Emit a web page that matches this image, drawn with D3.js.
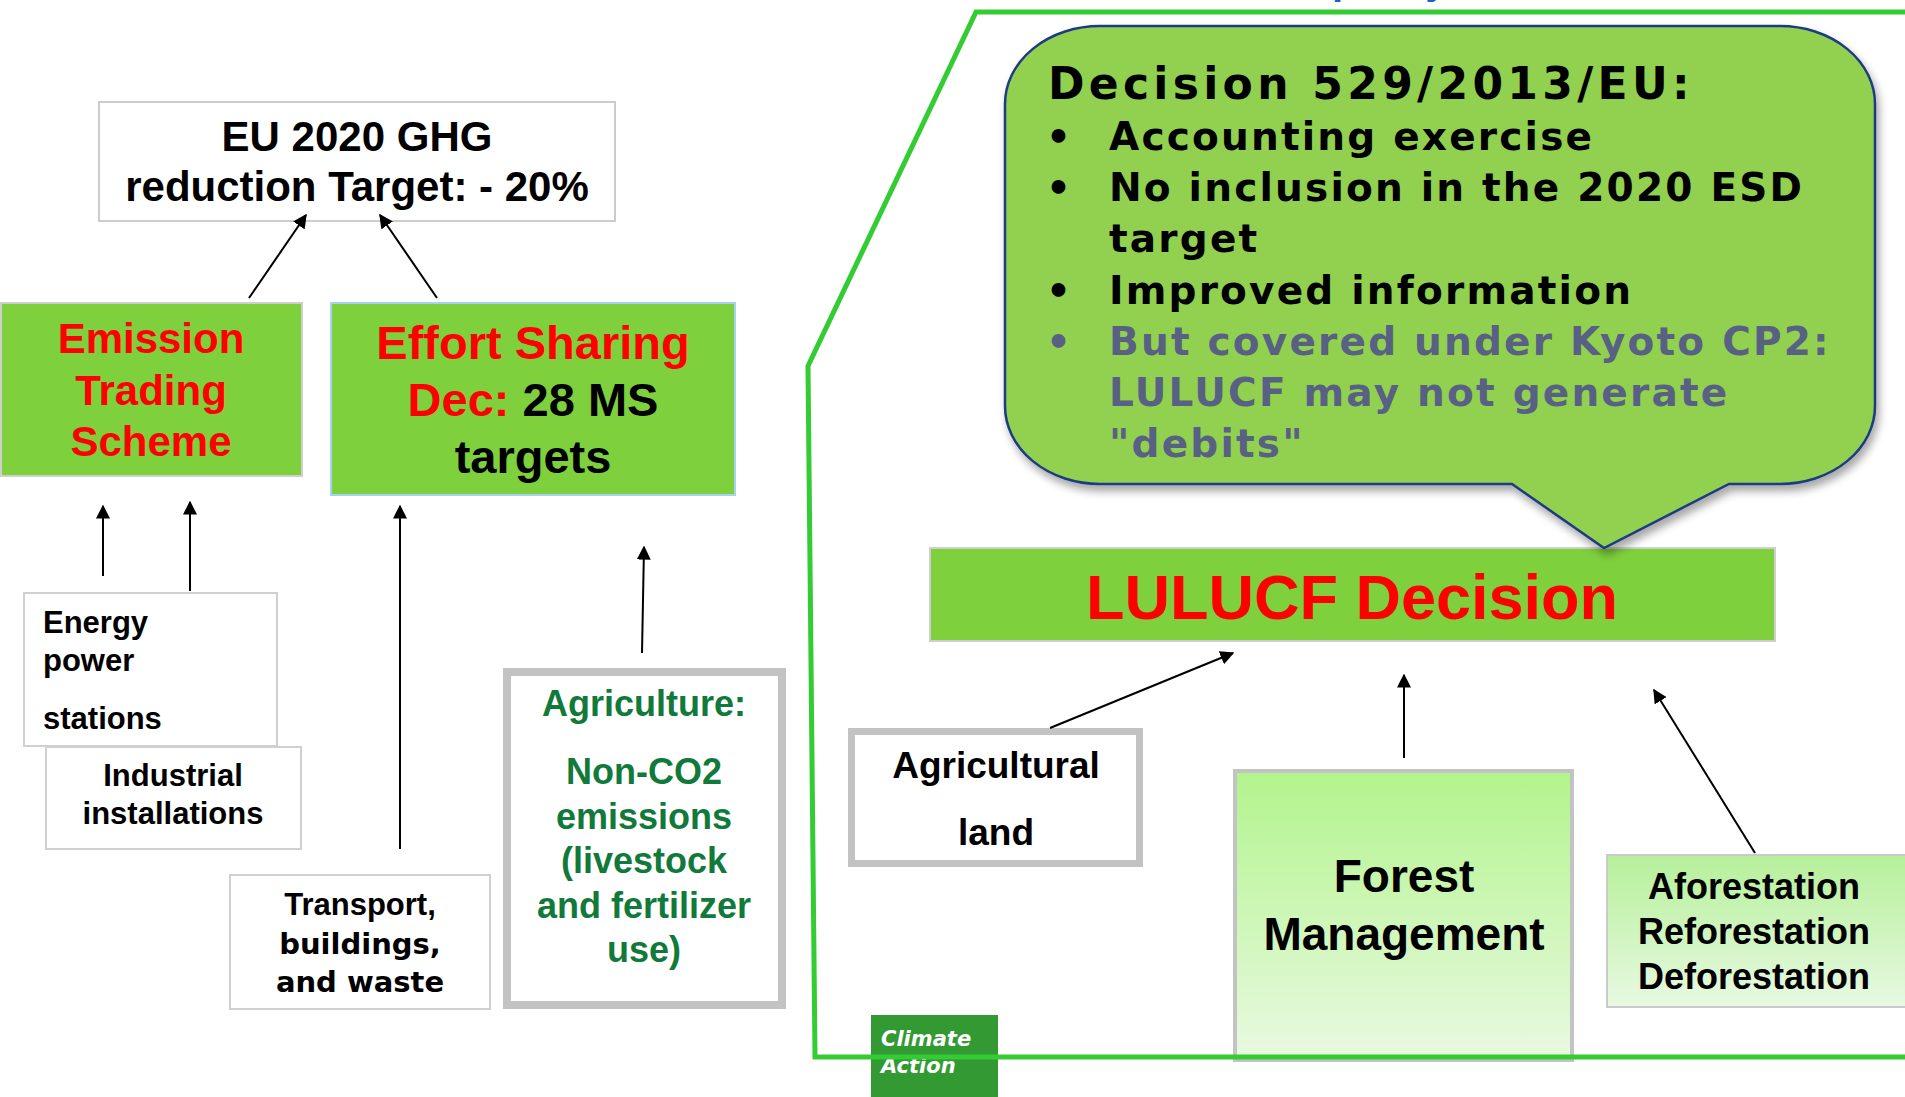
<!DOCTYPE html>
<html>
<head>
<meta charset="utf-8">
<script src="https://cdn.jsdelivr.net/npm/d3@7"></script>
<style>
  html, body { margin: 0; padding: 0; background: #fff; overflow: hidden; }
  svg { display: block; }
</style>
</head>
<body>
<div class="container"></div>
<script>
const WIDTH = 1905;
const HEIGHT = 1097;
const SANS = "'Liberation Sans', Arial, sans-serif";
const WIDE = "'DejaVu Sans', Verdana, sans-serif";

// texts of the diagram
var euTargetLines = ["EU 2020 GHG", "reduction Target: - 20%"];
var etsLines = ["Emission", "Trading", "Scheme"];
var esdLines = [
    [{t: "Effort Sharing", red: true}],
    [{t: "Dec:", red: true}, {t: " 28 MS", red: false}],
    [{t: "targets", red: false}]
];
var energyLines = ["Energy", "power", "stations"];
var industryLines = ["Industrial", "installations"];
var transportLines = ["Transport,", "buildings,", "and waste"];
var agricultureLines = ["Agriculture:", "Non-CO2", "emissions", "(livestock", "and fertilizer", "use)"];
var decisionTitle = "Decision 529/2013/EU:";
var decisionBullets = [
    {lines: ["Accounting exercise"], grey: false},
    {lines: ["No inclusion in the 2020 ESD", "target"], grey: false},
    {lines: ["Improved information"], grey: false},
    {lines: ["But covered under Kyoto CP2:", "LULUCF may not generate", "\"debits\""], grey: true}
];
var lulucfTitle = "LULUCF Decision";
var agriLandLines = ["Agricultural", "land"];
var forestLines = ["Forest", "Management"];
var afforestLines = ["Aforestation", "Reforestation", "Deforestation"];
var badgeLines = ["Climate", "Action"];

// layout (pixels of the slide)
var boxes = {
    eu:        {x: 98,   y: 101, w: 518, h: 121},
    ets:       {x: 0,    y: 302, w: 303, h: 175},
    esd:       {x: 330,  y: 302, w: 406, h: 194},
    energy:    {x: 23,   y: 592, w: 255, h: 155},
    industry:  {x: 45,   y: 746, w: 257, h: 104},
    transport: {x: 229,  y: 874, w: 262, h: 136},
    agri:      {x: 503,  y: 668, w: 283, h: 341},
    lulucf:    {x: 929,  y: 547, w: 847, h: 95},
    agriLand:  {x: 848,  y: 728, w: 295, h: 139},
    forest:    {x: 1233, y: 769, w: 341, h: 293},
    afforest:  {x: 1606, y: 854, w: 310, h: 154},
    badge:     {x: 871,  y: 1015, w: 127, h: 90}
};
var arrows = [
    [249, 298, 306, 215], [437, 298, 380, 215],
    [103, 576, 103, 506], [190, 591, 190, 502],
    [400, 849, 400, 506], [642, 653, 644, 547],
    [1050, 728, 1233, 653], [1404, 758, 1404, 675], [1755, 853, 1654, 690]
];
var panel = [[1910, 12], [976, 12], [808, 366], [815, 1057], [1910, 1057]];
var bubble = {x0: 1005, x1: 1875, y0: 26, y1: 484, rx: 95, ry: 78,
    pl: 1729, tipX: 1604, tipY: 548, pr: 1512};

var svg = d3.select('.container').append('svg')
    .attr('width', WIDTH)
    .attr('height', HEIGHT);

var defs = svg.append('defs');
defs.append('marker')
    .attr('id', 'head')
    .attr('viewBox', '0 0 10 10')
    .attr('refX', 9).attr('refY', 5)
    .attr('markerWidth', 7).attr('markerHeight', 7)
    .attr('markerUnits', 'strokeWidth')
    .attr('orient', 'auto')
    .append('path').attr('d', 'M0,0 L10,5 L0,10 Z').attr('fill', '#000');

var gradient = function (id, top, bottom) {
    var g = defs.append('linearGradient').attr('id', id)
        .attr('x1', 0).attr('y1', 0).attr('x2', 0).attr('y2', 1);
    g.append('stop').attr('offset', '0%').attr('stop-color', top);
    g.append('stop').attr('offset', '100%').attr('stop-color', bottom);
};
gradient('forestFill', '#b2f48c', '#e9f9e2');
gradient('afforestFill', '#b6f09a', '#e8f9e2');

var shadow = defs.append('filter').attr('id', 'shadow')
    .attr('x', '-10%').attr('y', '-10%').attr('width', '130%').attr('height', '130%');
shadow.append('feDropShadow')
    .attr('dx', 3).attr('dy', 6).attr('stdDeviation', 4)
    .attr('flood-color', '#000').attr('flood-opacity', 0.35);

// small helper for framed boxes
var drawBox = function (b, fill, stroke, width) {
    svg.append('rect')
        .attr('x', b.x + width / 2).attr('y', b.y + width / 2)
        .attr('width', b.w - width).attr('height', b.h - width)
        .attr('fill', fill)
        .attr('stroke', stroke)
        .attr('stroke-width', width);
};

var drawLines = function (lines, x, y0, step, opts) {
    var t = svg.append('text')
        .attr('font-family', opts.font || SANS)
        .attr('font-weight', 'bold')
        .attr('font-size', opts.size)
        .attr('fill', opts.color || '#000')
        .attr('text-anchor', opts.anchor || 'middle');
    lines.forEach(function (l, i) {
        t.append('tspan').attr('x', x).attr('y', y0 + i * step).text(l);
    });
    return t;
};

// left part
drawBox(boxes.eu, '#fff', '#cccccc', 2);
drawLines(euTargetLines, 357, 151, 50, {size: 42});

drawBox(boxes.ets, '#7ed03c', '#cfcfcf', 2);
drawLines(etsLines, 151, 353, 51.5, {size: 42, color: '#ff0000'});

drawBox(boxes.esd, '#7ed03c', '#a9d2f2', 2);
var esdText = svg.append('text')
    .attr('font-family', SANS).attr('font-weight', 'bold')
    .attr('font-size', 47).attr('text-anchor', 'middle');
esdLines.forEach(function (parts, i) {
    var line = esdText.append('tspan').attr('x', 533).attr('y', 359 + i * 57);
    parts.forEach(function (p) {
        line.append('tspan').attr('fill', p.red ? '#ff0000' : '#000').text(p.t);
    });
});

drawBox(boxes.industry, '#fff', '#d0d0d0', 2);
drawLines(industryLines, 173, 786, 38, {size: 31});
drawBox(boxes.energy, '#fff', '#d0d0d0', 2);
drawLines(energyLines, 43, 633, 38, {size: 31, anchor: 'start'})
    .selectAll('tspan').attr('y', function (d, i) { return [633, 671, 729][i]; });

drawBox(boxes.transport, '#fff', '#d0d0d0', 2);
var tr = drawLines(transportLines, 360, 915, 38.5, {size: 29, font: WIDE});
tr.select('tspan').attr('font-family', SANS).attr('font-size', 31);

drawBox(boxes.agri, '#fff', '#c3c3c3', 8);
drawLines(agricultureLines.slice(0, 1), 644, 716, 0, {size: 36, color: '#117a3b'});
drawLines(agricultureLines.slice(1), 644, 784, 44.5, {size: 36, color: '#117a3b'});

// right part
drawBox(boxes.badge, '#339933', '#339933', 0);
drawLines(badgeLines, 881, 1046, 27, {size: 21, color: '#fff', anchor: 'start', font: WIDE})
    .attr('font-style', 'italic');

var b = bubble;
var bubblePath = 'M' + (b.x0 + b.rx) + ',' + b.y0 +
    'H' + (b.x1 - b.rx) +
    'A' + b.rx + ',' + b.ry + ' 0 0 1 ' + b.x1 + ',' + (b.y0 + b.ry) +
    'V' + (b.y1 - b.ry) +
    'A' + b.rx + ',' + b.ry + ' 0 0 1 ' + (b.x1 - b.rx) + ',' + b.y1 +
    'H' + b.pl + 'L' + b.tipX + ',' + b.tipY + 'L' + b.pr + ',' + b.y1 +
    'H' + (b.x0 + b.rx) +
    'A' + b.rx + ',' + b.ry + ' 0 0 1 ' + b.x0 + ',' + (b.y1 - b.ry) +
    'V' + (b.y0 + b.ry) +
    'A' + b.rx + ',' + b.ry + ' 0 0 1 ' + (b.x0 + b.rx) + ',' + b.y0 + 'Z';

drawBox(boxes.lulucf, '#7ed03c', '#cfcfcf', 2);
drawLines([lulucfTitle], 1352, 619, 0, {size: 63, color: '#ff0000'});

svg.append('path')
    .attr('d', bubblePath)
    .attr('fill', '#92d050')
    .attr('stroke', '#1f3a80')
    .attr('stroke-width', 2.5)
    .attr('filter', 'url(#shadow)');

svg.append('text')
    .attr('x', 1048).attr('y', 99)
    .attr('font-family', WIDE).attr('font-weight', 'bold')
    .attr('font-size', 44).attr('letter-spacing', 4.3)
    .text(decisionTitle);

var row = 0;
var bulletG = svg.append('g')
    .attr('font-family', WIDE).attr('font-weight', 'bold')
    .attr('font-size', 39).attr('letter-spacing', 2.2);
decisionBullets.forEach(function (item) {
    var col = item.grey ? '#586184' : '#000';
    bulletG.append('text').attr('x', 1046).attr('y', 150 + row * 51.2)
        .attr('fill', col).attr('letter-spacing', 0).text('\u2022');
    item.lines.forEach(function (l) {
        bulletG.append('text').attr('x', 1109).attr('y', 150 + row * 51.2)
            .attr('fill', col).text(l);
        row += 1;
    });
});

drawBox(boxes.agriLand, '#fff', '#c3c3c3', 7);
drawLines(agriLandLines, 996, 778, 67, {size: 37});

drawBox(boxes.forest, 'url(#forestFill)', '#c3c3c3', 4);
drawLines(forestLines, 1404, 892, 58, {size: 46});

drawBox(boxes.afforest, 'url(#afforestFill)', '#cacaca', 2);
drawLines(afforestLines, 1754, 899, 45, {size: 36});

// arrows
svg.append('g').selectAll('line').data(arrows)
    .enter().append('line')
    .attr('x1', function (d) { return d[0]; })
    .attr('y1', function (d) { return d[1]; })
    .attr('x2', function (d) { return d[2]; })
    .attr('y2', function (d) { return d[3]; })
    .attr('stroke', '#000')
    .attr('stroke-width', 2)
    .attr('marker-end', 'url(#head)');

// green frame of the LULUCF panel
svg.append('path')
    .attr('d', d3.line()(panel))
    .attr('fill', 'none')
    .attr('stroke', '#33cc33')
    .attr('stroke-width', 5);

// title above the frame, cut off by the top edge as in the slide
svg.append('text')
    .attr('x', 1332).attr('y', -6)
    .attr('font-family', SANS).attr('font-weight', 'bold')
    .attr('font-size', 40).attr('fill', '#1f5fbf')
    .text('policy');
</script>
</body>
</html>
